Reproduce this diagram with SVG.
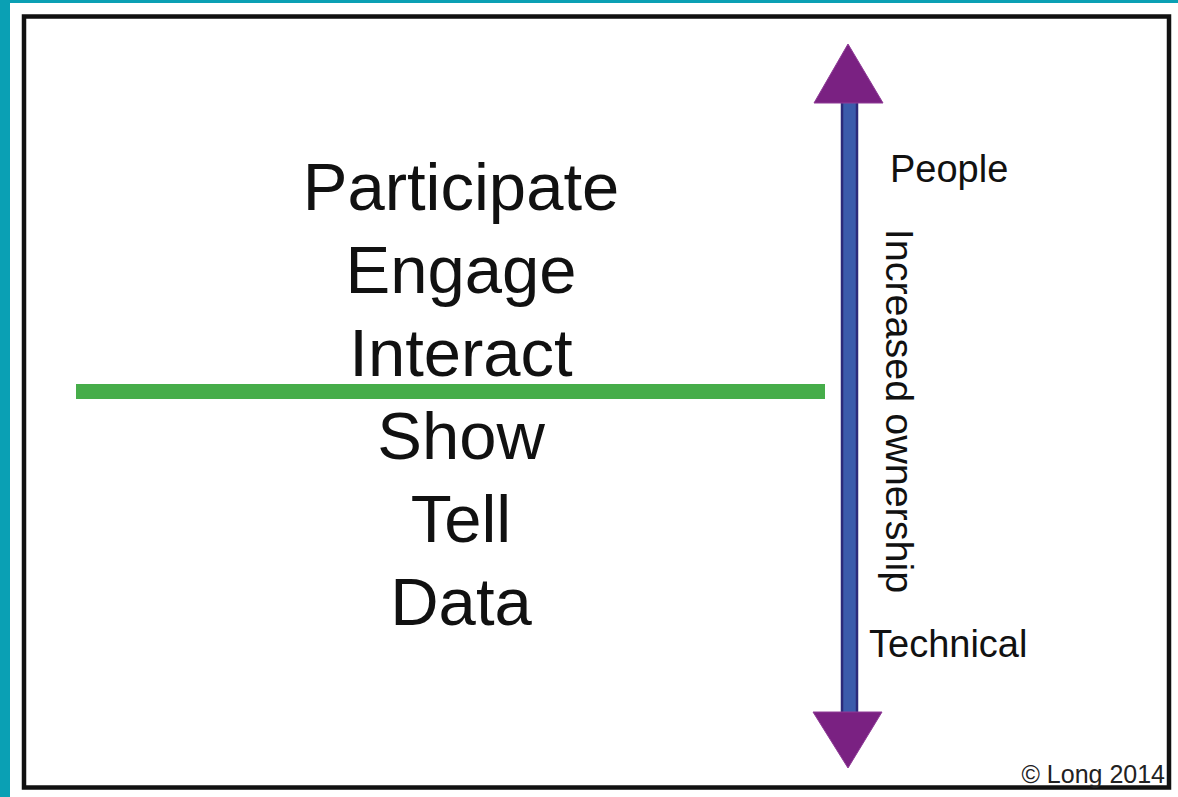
<svg xmlns="http://www.w3.org/2000/svg" width="1178" height="797" viewBox="0 0 1178 797">
  <style>
    .big { font-family: "Liberation Sans", Arial, sans-serif; font-size: 67px; fill: #111; text-anchor: middle; }
    .lab { font-family: "Liberation Sans", Arial, sans-serif; fill: #111; }
    .tri { fill: #7a2182; stroke: #8e3a96; stroke-width: 1; }
  </style>
  <rect x="0" y="0" width="1178" height="797" fill="#ffffff"/>
  <rect x="0" y="0" width="10" height="797" fill="#0aa0b4"/>
  <rect x="0" y="0" width="1178" height="3" fill="#0aa0b4"/>
  <rect id="frame" x="24" y="16.5" width="1145" height="771" fill="none" stroke="#111" stroke-width="4.5"/>

  <g id="levels">
    <text class="big" x="461" y="210">Participate</text>
    <text class="big" x="461" y="293">Engage</text>
    <text class="big" x="461" y="376">Interact</text>
    <text class="big" x="461" y="459">Show</text>
    <text class="big" x="461" y="542">Tell</text>
    <text class="big" x="461" y="625">Data</text>
  </g>

  <g id="connectors">
    <rect id="divider" x="76" y="384" width="749" height="15" fill="#46ad4a"/>
    <g id="axis">
      <rect x="842" y="100" width="15" height="615" fill="#3b5bab" stroke="#2b2a7a" stroke-width="2.5"/>
      <polygon class="tri" points="848,44 883,103 814,103"/>
      <polygon class="tri" points="813,712 882,712 848,768"/>
    </g>
  </g>

  <g id="axis-labels">
    <text class="lab" x="890" y="182" style="font-size:38px">People</text>
    <text class="lab" x="869" y="657" style="font-size:38px">Technical</text>
    <text class="lab" transform="translate(886,411) rotate(90)" text-anchor="middle" style="font-size:39.5px">Increased ownership</text>
  </g>

  <text id="credit" x="1165" y="783" font-family="'Liberation Sans', Arial, sans-serif" font-size="25" fill="#222" text-anchor="end">© Long 2014</text>
</svg>
